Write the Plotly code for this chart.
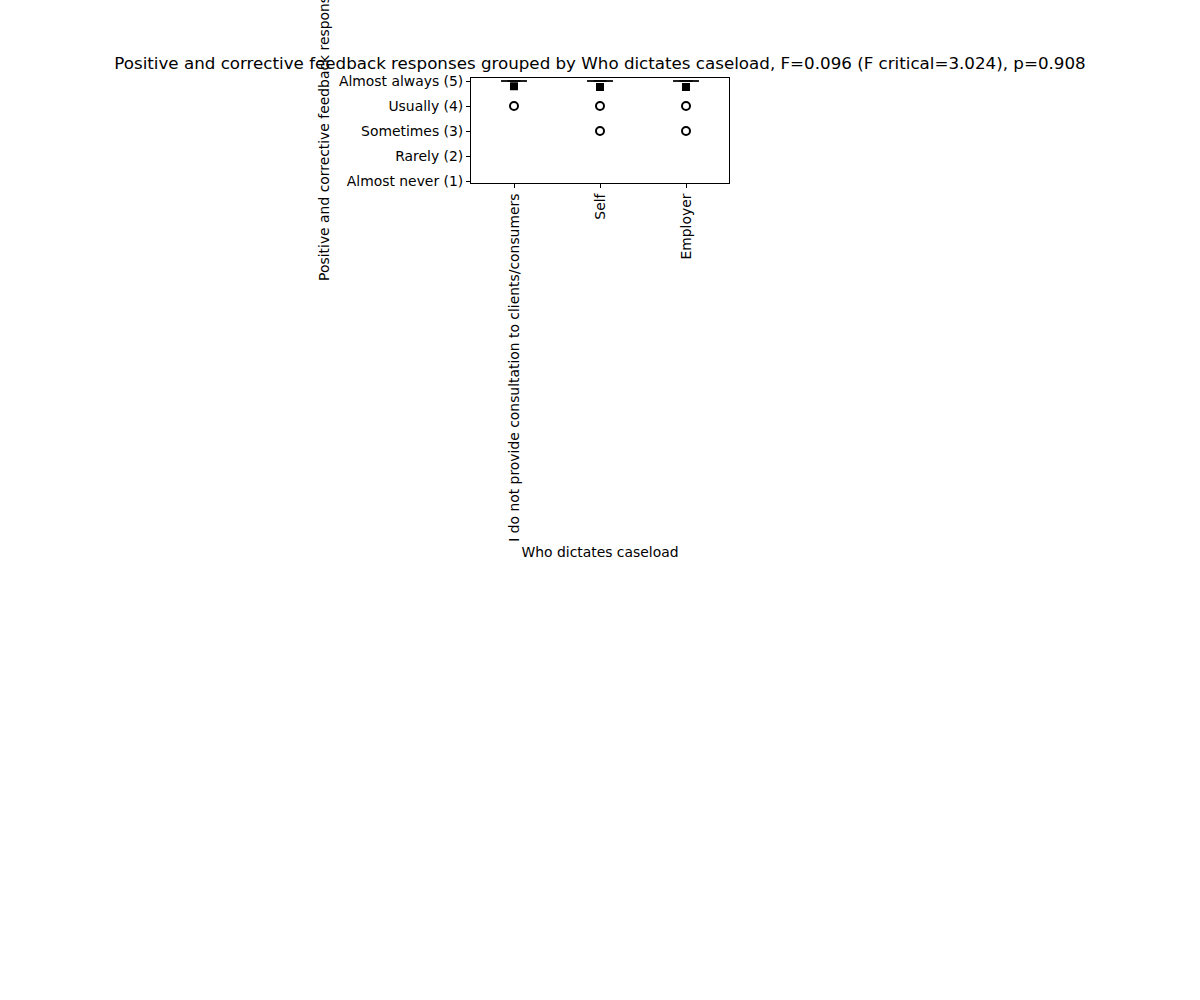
import plotly.graph_objects as go

categories = ["I do not provide consultation to clients/consumers", "Self", "Employer"]
q1 = [5, 5, 5]
medians = [5, 5, 5]
q3 = [5, 5, 5]
lower_fence = [5, 5, 5]
upper_fence = [5, 5, 5]
means = [4.79, 4.76, 4.76]
outliers = [[4], [4, 3], [4, 3]]
y_tick_vals = [1, 2, 3, 4, 5]
y_tick_text = ["Almost never (1)", "Rarely (2)", "Sometimes (3)", "Usually (4)", "Almost always (5)"]
title_text = ("Positive and corrective feedback responses grouped by Who dictates caseload, "
              "F=0.096 (F critical=3.024), p=0.908")

font = "DejaVu Sans"
fig = go.Figure()

fig.add_trace(go.Box(
    x=categories, q1=q1, median=medians, q3=q3,
    lowerfence=lower_fence, upperfence=upper_fence,
    width=0.3, fillcolor="white", line=dict(color="black", width=1),
    boxpoints=False, showlegend=False, hoverinfo="skip",
))

ox, oy = [], []
for c, vals in zip(categories, outliers):
    for v in vals:
        ox.append(c)
        oy.append(v)
fig.add_trace(go.Scatter(
    x=ox, y=oy, mode="markers", showlegend=False,
    marker=dict(symbol="circle-open", size=8, color="black", line=dict(width=2, color="black")),
))
fig.add_trace(go.Scatter(
    x=categories, y=means, mode="markers", showlegend=False,
    marker=dict(symbol="square", size=8, color="black"),
))

fig.update_layout(
    width=1200, height=1000,
    paper_bgcolor="white", plot_bgcolor="white",
    margin=dict(l=471, r=471, t=78, b=817),
    font=dict(family=font, size=13.9, color="black"),
    title=dict(text=title_text, x=0.5, xanchor="center", y=1 - 63 / 1000, yanchor="middle",
               font=dict(family=font, size=16.7, color="black")),
)
fig.update_xaxes(
    type="category", categoryorder="array", categoryarray=categories,
    range=[-0.5, 2.5], tickangle=-90,
    showline=True, linecolor="black", linewidth=1, mirror=True,
    ticks="outside", ticklen=4, tickcolor="black", showgrid=False, zeroline=False,
    title=dict(text="Who dictates caseload", font=dict(size=13.9), standoff=6),
)
fig.update_yaxes(
    range=[0.92, 5.12], tickvals=y_tick_vals, ticktext=y_tick_text,
    showline=True, linecolor="black", linewidth=1, mirror=True,
    ticks="outside", ticklen=4, tickcolor="black", showgrid=False, zeroline=False,
    title=dict(text="Positive and corrective feedback responses", font=dict(size=13.9), standoff=6),
)

fig.write_html("out.html")
